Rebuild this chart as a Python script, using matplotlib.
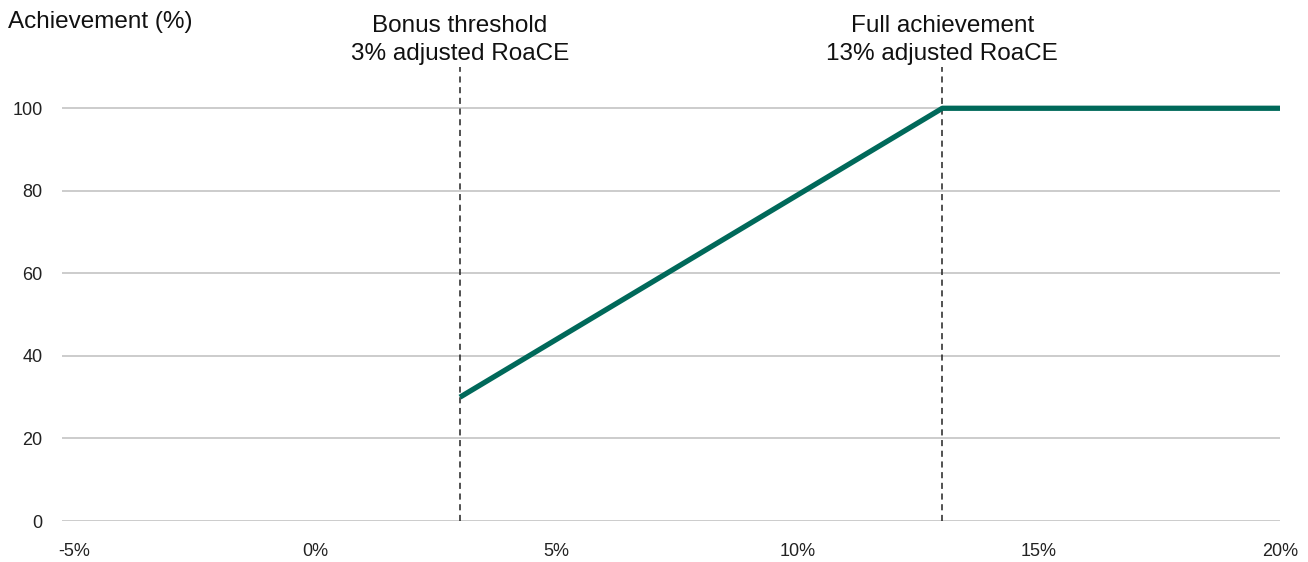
import matplotlib.pyplot as plt

plt.rcParams['font.family'] = ['Liberation Sans', 'DejaVu Sans']

# data
roace = [3, 13, 20]            # adjusted RoaCE (%)
achievement = [30, 100, 100]   # achievement (%)
x_ticks = [-5, 0, 5, 10, 15, 20]
y_ticks = [0, 20, 40, 60, 80, 100]
markers = [3, 13]
marker_labels = ['Bonus threshold\n3% adjusted RoaCE',
                 'Full achievement\n13% adjusted RoaCE']

fig = plt.figure(figsize=(13.08, 5.62), dpi=100)
ax = fig.add_axes([62 / 1308, 41 / 562, 1218 / 1308, 454 / 562])

ax.set_xlim(-5.25, 20)
ax.set_ylim(0, 110)

for y in y_ticks:
    ax.axhline(y, color='#bfbfbf', lw=1.1, zorder=1)

for x in markers:
    ax.plot([x, x], [0, 110], color='#222222', lw=1.1, ls=(0, (4, 3)), zorder=2)

ax.plot(roace, achievement, color='#00695a', lw=3.8, solid_capstyle='butt', zorder=3)

for x, lab in zip(markers, marker_labels):
    ax.text(x, 110.6, lab, ha='center', va='bottom', fontsize=17.5,
            linespacing=1.3, color='#111111', clip_on=False)

ax.set_xticks(x_ticks)
ax.set_xticklabels([f'{v}%' for v in x_ticks])
ax.set_yticks(y_ticks)
ax.set_yticklabels([str(v) for v in y_ticks])
ax.tick_params(axis='both', length=0, labelsize=13, colors='#222222')
ax.tick_params(axis='x', pad=16)
ax.tick_params(axis='y', pad=14)
for s in ax.spines.values():
    s.set_visible(False)

fig.text(8 / 1308, 1 - 22 / 562, 'Achievement (%)', ha='left', va='center',
         fontsize=17.5, color='#111111')

fig.savefig('out.png', dpi=100)
